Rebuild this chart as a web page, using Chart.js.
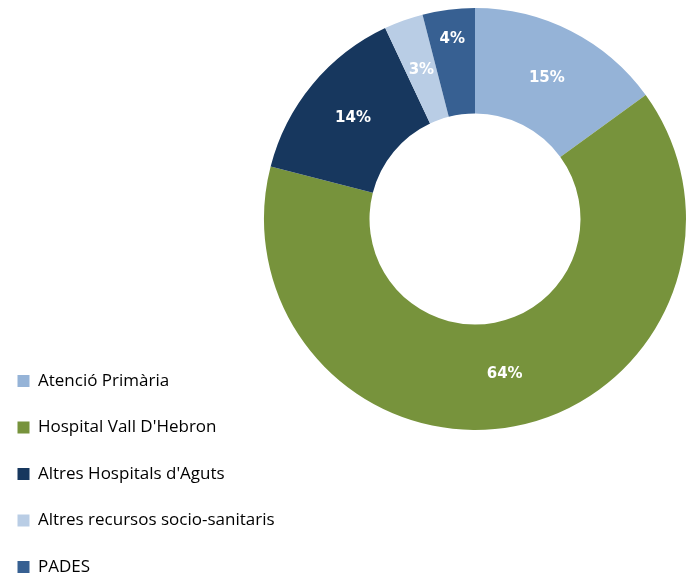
<!DOCTYPE html>
<html lang="ca">
<head>
    <meta charset="UTF-8">
    <title>Distribució per recurs</title>
    <script src="https://cdn.jsdelivr.net/npm/chart.js"></script>
    <style>
        html, body { margin: 0; padding: 0; background: #ffffff; }
        .wrap { position: relative; width: 691px; height: 574px; }
    </style>
</head>
<body>
    <div class="wrap">
        <canvas id="donut"></canvas>
    </div>

    <script>
        // Data
        const labels = [
            'Atenció Primària',
            "Hospital Vall D'Hebron",
            "Altres Hospitals d'Aguts",
            'Altres recursos socio-sanitaris',
            'PADES'
        ];
        const values = [15, 64, 14, 3, 4];
        const colors = ['#95b3d7', '#77933c', '#17375e', '#b9cde5', '#376092'];
        // where the % label sits across the ring (0 = inner edge, 1 = outer edge)
        const labelDepth = [0.5, 0.5, 0.5, 0.5, 0.72];

        const donutSize = 422; // diameter of the ring

        // keep the legend on the full left side but put the ring top-right
        const ringArea = {
            id: 'ringArea',
            afterLayout(chart) {
                const a = chart.chartArea;
                a.top = 8;
                a.bottom = a.top + donutSize;
                a.right = chart.width - 5;
                a.left = a.right - donutSize;
                a.width = donutSize;
                a.height = donutSize;
            }
        };

        // white percentage labels drawn on each arc
        const sliceLabels = {
            id: 'sliceLabels',
            afterDatasetsDraw(chart) {
                const ctx = chart.ctx;
                const meta = chart.getDatasetMeta(0);
                ctx.save();
                ctx.fillStyle = '#ffffff';
                ctx.font = 'bold 15px "DejaVu Sans", sans-serif';
                ctx.textAlign = 'center';
                ctx.textBaseline = 'middle';
                meta.data.forEach((arc, i) => {
                    const p = arc.getProps(['x', 'y', 'startAngle', 'endAngle', 'innerRadius', 'outerRadius'], true);
                    const mid = (p.startAngle + p.endAngle) / 2;
                    const r = p.innerRadius + (p.outerRadius - p.innerRadius) * labelDepth[i];
                    ctx.fillText(values[i] + '%', p.x + Math.cos(mid) * r, p.y + Math.sin(mid) * r);
                });
                ctx.restore();
            }
        };

        const ctx = document.getElementById('donut').getContext('2d');
        new Chart(ctx, {
            type: 'doughnut',
            data: {
                labels: labels,
                datasets: [{
                    data: values,
                    backgroundColor: colors,
                    borderWidth: 0,
                }]
            },
            options: {
                responsive: true,
                maintainAspectRatio: false,
                animation: false,
                cutout: '50%',
                layout: {
                    padding: { top: 8, bottom: -31, left: -12, right: 5 }
                },
                plugins: {
                    legend: {
                        position: 'left',
                        align: 'end',
                        labels: {
                            boxWidth: 12,
                            boxHeight: 12,
                            padding: 29.5,
                            color: '#000000',
                            font: { family: '"Open Sans", sans-serif', size: 17 }
                        }
                    },
                    tooltip: { enabled: false }
                }
            },
            plugins: [ringArea, sliceLabels]
        });
    </script>
</body>
</html>
